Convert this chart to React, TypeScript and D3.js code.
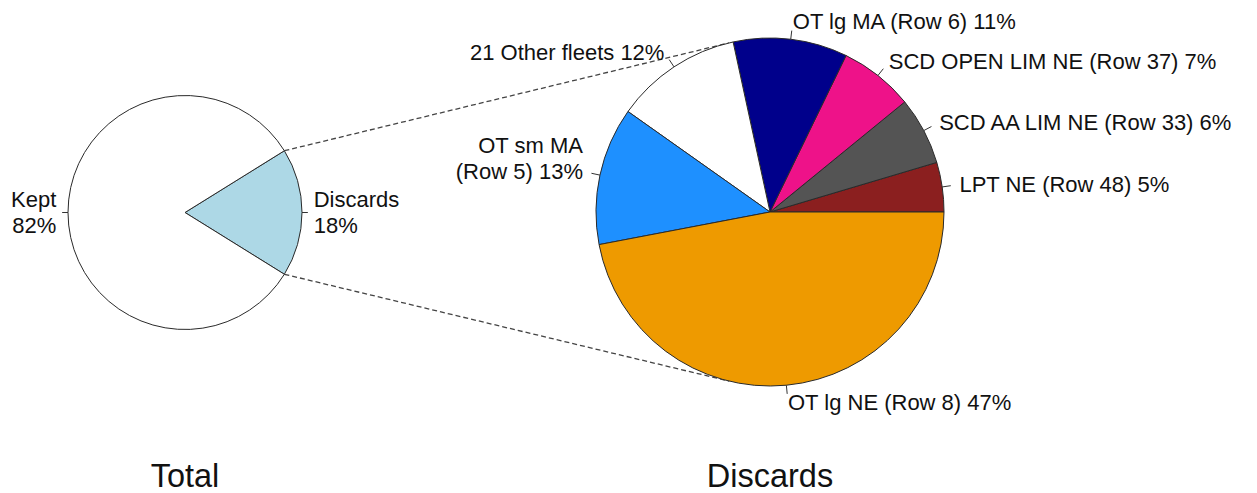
import React from "react";
import * as d3 from "d3";

// ---- data ----
const totalCategories = ["Discards", "Kept"];
const totalValues = [17.7, 82.3];
const totalColors = ["#ADD8E6", "#FFFFFF"];

const discardCategories = [
  "LPT NE (Row 48)",
  "SCD AA LIM NE (Row 33)",
  "SCD OPEN LIM NE (Row 37)",
  "OT lg MA (Row 6)",
  "21 Other fleets",
  "OT sm MA\n(Row 5)",
  "OT lg NE (Row 8)",
];
const discardValues = [4.6, 6.3, 6.9, 10.6, 11.8, 12.8, 47.0];
const discardColors = ["#8B1F1F", "#545454", "#EE1289", "#00008B", "#FFFFFF", "#1E90FF", "#EE9A00"];

const titles = ["Total", "Discards"];

// ---- layout constants ----
const W = 1257;
const H = 493;
const FONT = "'Liberation Sans', Arial, Helvetica, sans-serif";
const LABEL_SIZE = 22;
const LINE_H = 26;
const TITLE_SIZE = 32.5;
const TITLE_Y = 487;

type PieSpec = {
  cx: number;
  cy: number;
  r: number;
  cats: string[];
  vals: number[];
  cols: string[];
  startFrac: number;
  sep: string;
  multiAnchor: "center" | "last";
};

function layoutPie(p: PieSpec) {
  const total = d3.sum(p.vals);
  const start = Math.PI / 2 + p.startFrac * 2 * Math.PI;
  const pie = d3
    .pie<number>()
    .sort(null)
    .value((d) => d)
    .startAngle(start)
    .endAngle(start - 2 * Math.PI);
  return pie(p.vals).map((a, i) => ({
    arc: a,
    cat: p.cats[i],
    color: p.cols[i],
    pct: (p.vals[i] / total) * 100,
  }));
}

function PieChart({ p }: { p: PieSpec }) {
  const slices = layoutPie(p);
  const arcGen = d3.arc<d3.PieArcDatum<number>>().innerRadius(0).outerRadius(p.r);
  return (
    <g transform={`translate(${p.cx},${p.cy})`}>
      {slices.map((s, i) => (
        <path key={i} d={arcGen(s.arc) || ""} fill={s.color} stroke="#2a2a2a" strokeWidth={1} />
      ))}
      {slices.map((s, i) => {
        const mid = (s.arc.startAngle + s.arc.endAngle) / 2;
        const sx = Math.sin(mid);
        const sy = -Math.cos(mid);
        const lx = 1.1 * p.r * sx;
        const ly = 1.1 * p.r * sy;
        const lines = `${s.cat}${p.sep}${Math.round(s.pct)}%`.split("\n");
        const n = lines.length;
        const y0 = p.multiAnchor === "center" ? ly - ((n - 1) * LINE_H) / 2 : ly - (n - 1) * LINE_H;
        return (
          <g key={"l" + i}>
            <line
              x1={p.r * sx}
              y1={p.r * sy}
              x2={1.05 * p.r * sx}
              y2={1.05 * p.r * sy}
              stroke="#333"
              strokeWidth={1}
            />
            <text
              fontFamily={FONT}
              fontSize={LABEL_SIZE}
              fill="#111"
              textAnchor={sx >= 0 ? "start" : "end"}
            >
              {lines.map((t, k) => (
                <tspan key={k} x={lx} y={y0 + k * LINE_H} dominantBaseline="central">
                  {t}
                </tspan>
              ))}
            </text>
          </g>
        );
      })}
    </g>
  );
}

export default function App() {
  const leftPie: PieSpec = {
    cx: 185,
    cy: 212.5,
    r: 117,
    cats: totalCategories,
    vals: totalValues,
    cols: totalColors,
    startFrac: totalValues[0] / d3.sum(totalValues) / 2,
    sep: "\n",
    multiAnchor: "center",
  };
  const rightPie: PieSpec = {
    cx: 770,
    cy: 212,
    r: 174,
    cats: discardCategories,
    vals: discardValues,
    cols: discardColors,
    startFrac: 0,
    sep: " ",
    multiAnchor: "last",
  };

  // connector lines: from edges of the Discards wedge, tangent to the right pie
  const leftSlices = layoutPie(leftPie);
  const dArc = leftSlices[0].arc;
  const edgePt = (a: number) => [leftPie.cx + leftPie.r * Math.sin(a), leftPie.cy - leftPie.r * Math.cos(a)];
  const pA = edgePt(dArc.startAngle);
  const pB = edgePt(dArc.endAngle);
  const upper = pA[1] < pB[1] ? pA : pB;
  const lower = pA[1] < pB[1] ? pB : pA;
  const tangent = (P: number[], sign: number) => {
    const dx = P[0] - rightPie.cx;
    const dy = P[1] - rightPie.cy;
    const d = Math.hypot(dx, dy);
    const phi = Math.atan2(dy, dx);
    const a = phi + sign * Math.acos(rightPie.r / d);
    return [rightPie.cx + rightPie.r * Math.cos(a), rightPie.cy + rightPie.r * Math.sin(a)];
  };
  const tTop = tangent(upper, 1);
  const tBot = tangent(lower, -1);

  return (
    <svg
      width={W}
      height={H}
      style={{ position: "absolute", left: 0, top: 0, background: "#fff" }}
    >
      <rect width={W} height={H} fill="#fff" />
      <line x1={upper[0]} y1={upper[1]} x2={tTop[0]} y2={tTop[1]} stroke="#444" strokeWidth={1.3} strokeDasharray="5 3" />
      <line x1={lower[0]} y1={lower[1]} x2={tBot[0]} y2={tBot[1]} stroke="#444" strokeWidth={1.3} strokeDasharray="5 3" />
      <PieChart p={leftPie} />
      <PieChart p={rightPie} />
      {[leftPie, rightPie].map((p, i) => (
        <text
          key={i}
          x={p.cx}
          y={TITLE_Y}
          textAnchor="middle"
          fontFamily={FONT}
          fontSize={TITLE_SIZE}
          fill="#111"
        >
          {titles[i]}
        </text>
      ))}
    </svg>
  );
}
